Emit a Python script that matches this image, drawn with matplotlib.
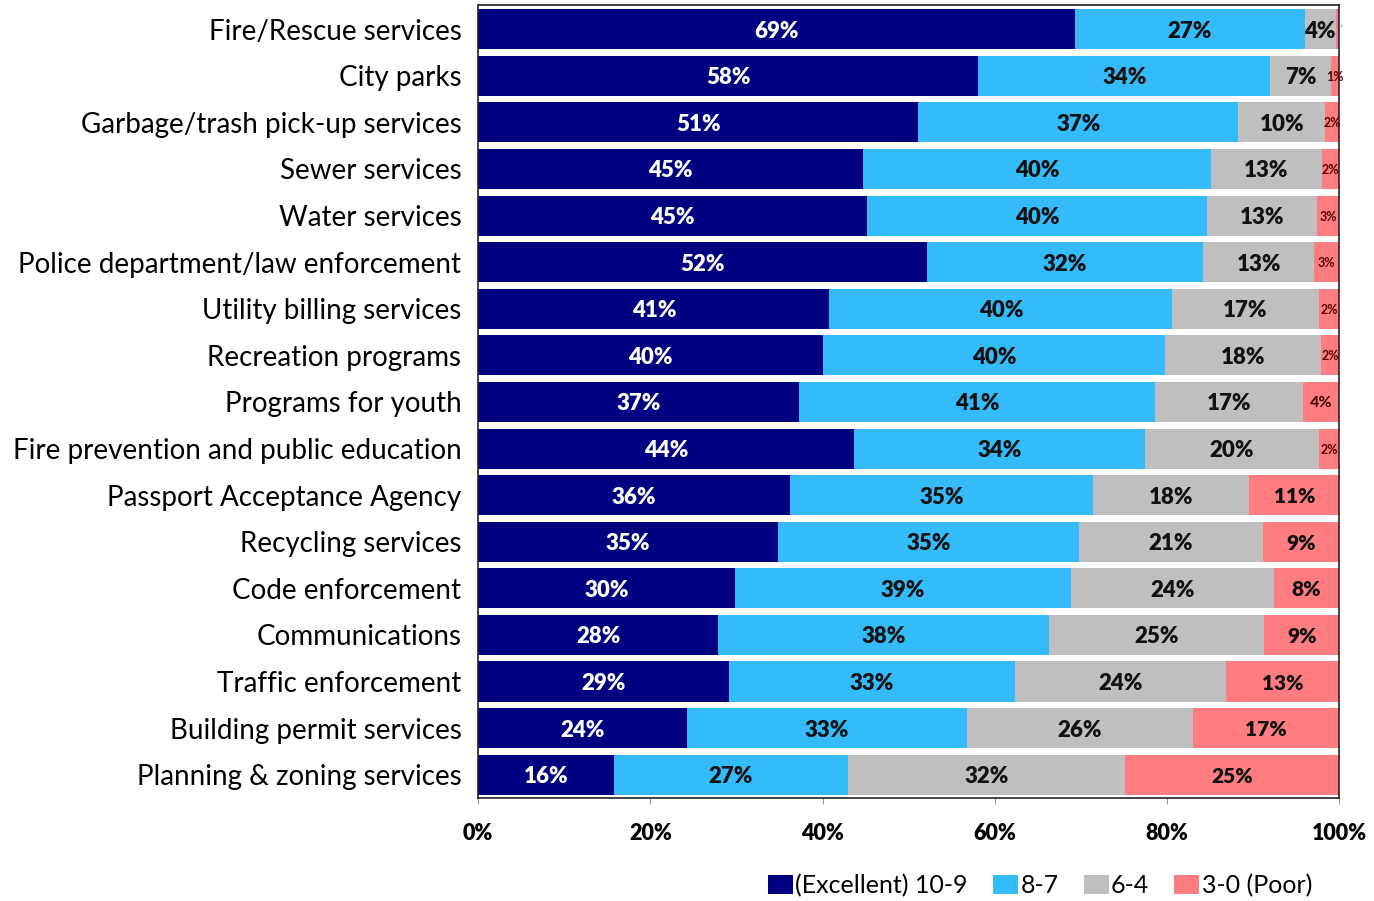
import numpy as np
import matplotlib
matplotlib.use("Agg")
import matplotlib.pyplot as plt
from matplotlib.patches import Patch

services = [
    "Fire/Rescue services", "City parks", "Garbage/trash pick-up services",
    "Sewer services", "Water services", "Police department/law enforcement",
    "Utility billing services", "Recreation programs", "Programs for youth",
    "Fire prevention and public education", "Passport Acceptance Agency",
    "Recycling services", "Code enforcement", "Communications",
    "Traffic enforcement", "Building permit services",
    "Planning & zoning services",
]

# share of ratings per band, in percent
excellent = [69.3, 58.1, 51.1, 44.7, 45.2, 52.1, 40.8, 40.1, 37.3, 43.6,
             36.2, 34.8, 29.8, 27.9, 29.1, 24.2, 15.8]
good = [26.7, 33.9, 37.2, 40.4, 39.5, 32.1, 39.8, 39.7, 41.3, 33.9,
        35.2, 35.0, 39.0, 38.4, 33.3, 32.6, 27.1]
fair = [3.6, 7.0, 10.1, 12.9, 12.7, 12.9, 17.0, 18.1, 17.2, 20.1,
        18.1, 21.3, 23.6, 25.0, 24.4, 26.2, 32.2]
poor = [0.4, 1.0, 1.6, 2.0, 2.6, 2.9, 2.4, 2.1, 4.2, 2.4,
        10.6, 8.9, 7.6, 8.7, 13.2, 17.0, 24.9]

bands = ["(Excellent) 10-9", "8-7", "6-4", "3-0 (Poor)"]
colors = ["#000080", "#33BBFA", "#BFBFBF", "#FF7C80"]
xticks = [0, 20, 40, 60, 80, 100]

plt.rcParams["font.family"] = ["Lato", "DejaVu Sans"]

fig = plt.figure(figsize=(13.74, 9.01), dpi=100)
ax = fig.add_axes([0.348, 0.1143, 0.6267, 0.8802])

y = np.arange(len(services))
left = np.zeros(len(services))
series = [excellent, good, fair, poor]
for i, (vals, col) in enumerate(zip(series, colors)):
    vals = np.array(vals)
    ax.barh(y, vals, left=left, height=0.86, color=col, label=bands[i])
    for yi, (l, v) in enumerate(zip(left, vals)):
        cx = l + v / 2
        txt = f"{v:.0f}%"
        if i == 0:
            ax.text(cx, yi, txt, ha="center", va="center_baseline",
                    color="white", fontsize=16, fontweight="heavy")
        elif i < 3:
            ax.text(cx, yi, txt, ha="center", va="center_baseline",
                    color="#111111", fontsize=16, fontweight="heavy")
        else:
            if v < 1:
                ax.text(cx + 0.4, yi, "*", ha="center", va="center",
                        color="#bbbbbb", fontsize=8)
            elif v < 3.5:
                ax.text(cx, yi, txt, ha="center", va="center_baseline",
                        color="#5a0000", fontsize=9, fontweight="bold")
            elif v < 5:
                ax.text(cx, yi, txt, ha="center", va="center_baseline",
                        color="#3a0000", fontsize=11.5, fontweight="bold")
            else:
                ax.text(cx, yi, txt, ha="center", va="center_baseline",
                        color="#111111", fontsize=15, fontweight="heavy")
    left += vals

ax.set_ylim(len(services) - 0.5, -0.52)
ax.set_xlim(0, 100)
ax.set_yticks(y)
ax.set_yticklabels(services, fontsize=20)
ax.tick_params(axis="y", length=0, pad=12)
ax.set_xticks(xticks)
ax.set_xticklabels([f"{t}%" for t in xticks], fontsize=15.5,
                   fontweight="heavy")
ax.tick_params(axis="x", length=4, direction="out", color="#999999", pad=14)
for side in ["left", "right", "top", "bottom"]:
    ax.spines[side].set_color("#222222")
    ax.spines[side].set_linewidth(1.2)

handles = [Patch(facecolor=c, label=b) for c, b in zip(colors, bands)]
fig.legend(handles=handles, loc="center", bbox_to_anchor=(0.757, 0.017),
           ncol=4, frameon=False, fontsize=18, handlelength=1.0,
           handleheight=0.8, handletextpad=0.1, columnspacing=1.0)

fig.savefig("out.png", dpi=100, facecolor="white")
